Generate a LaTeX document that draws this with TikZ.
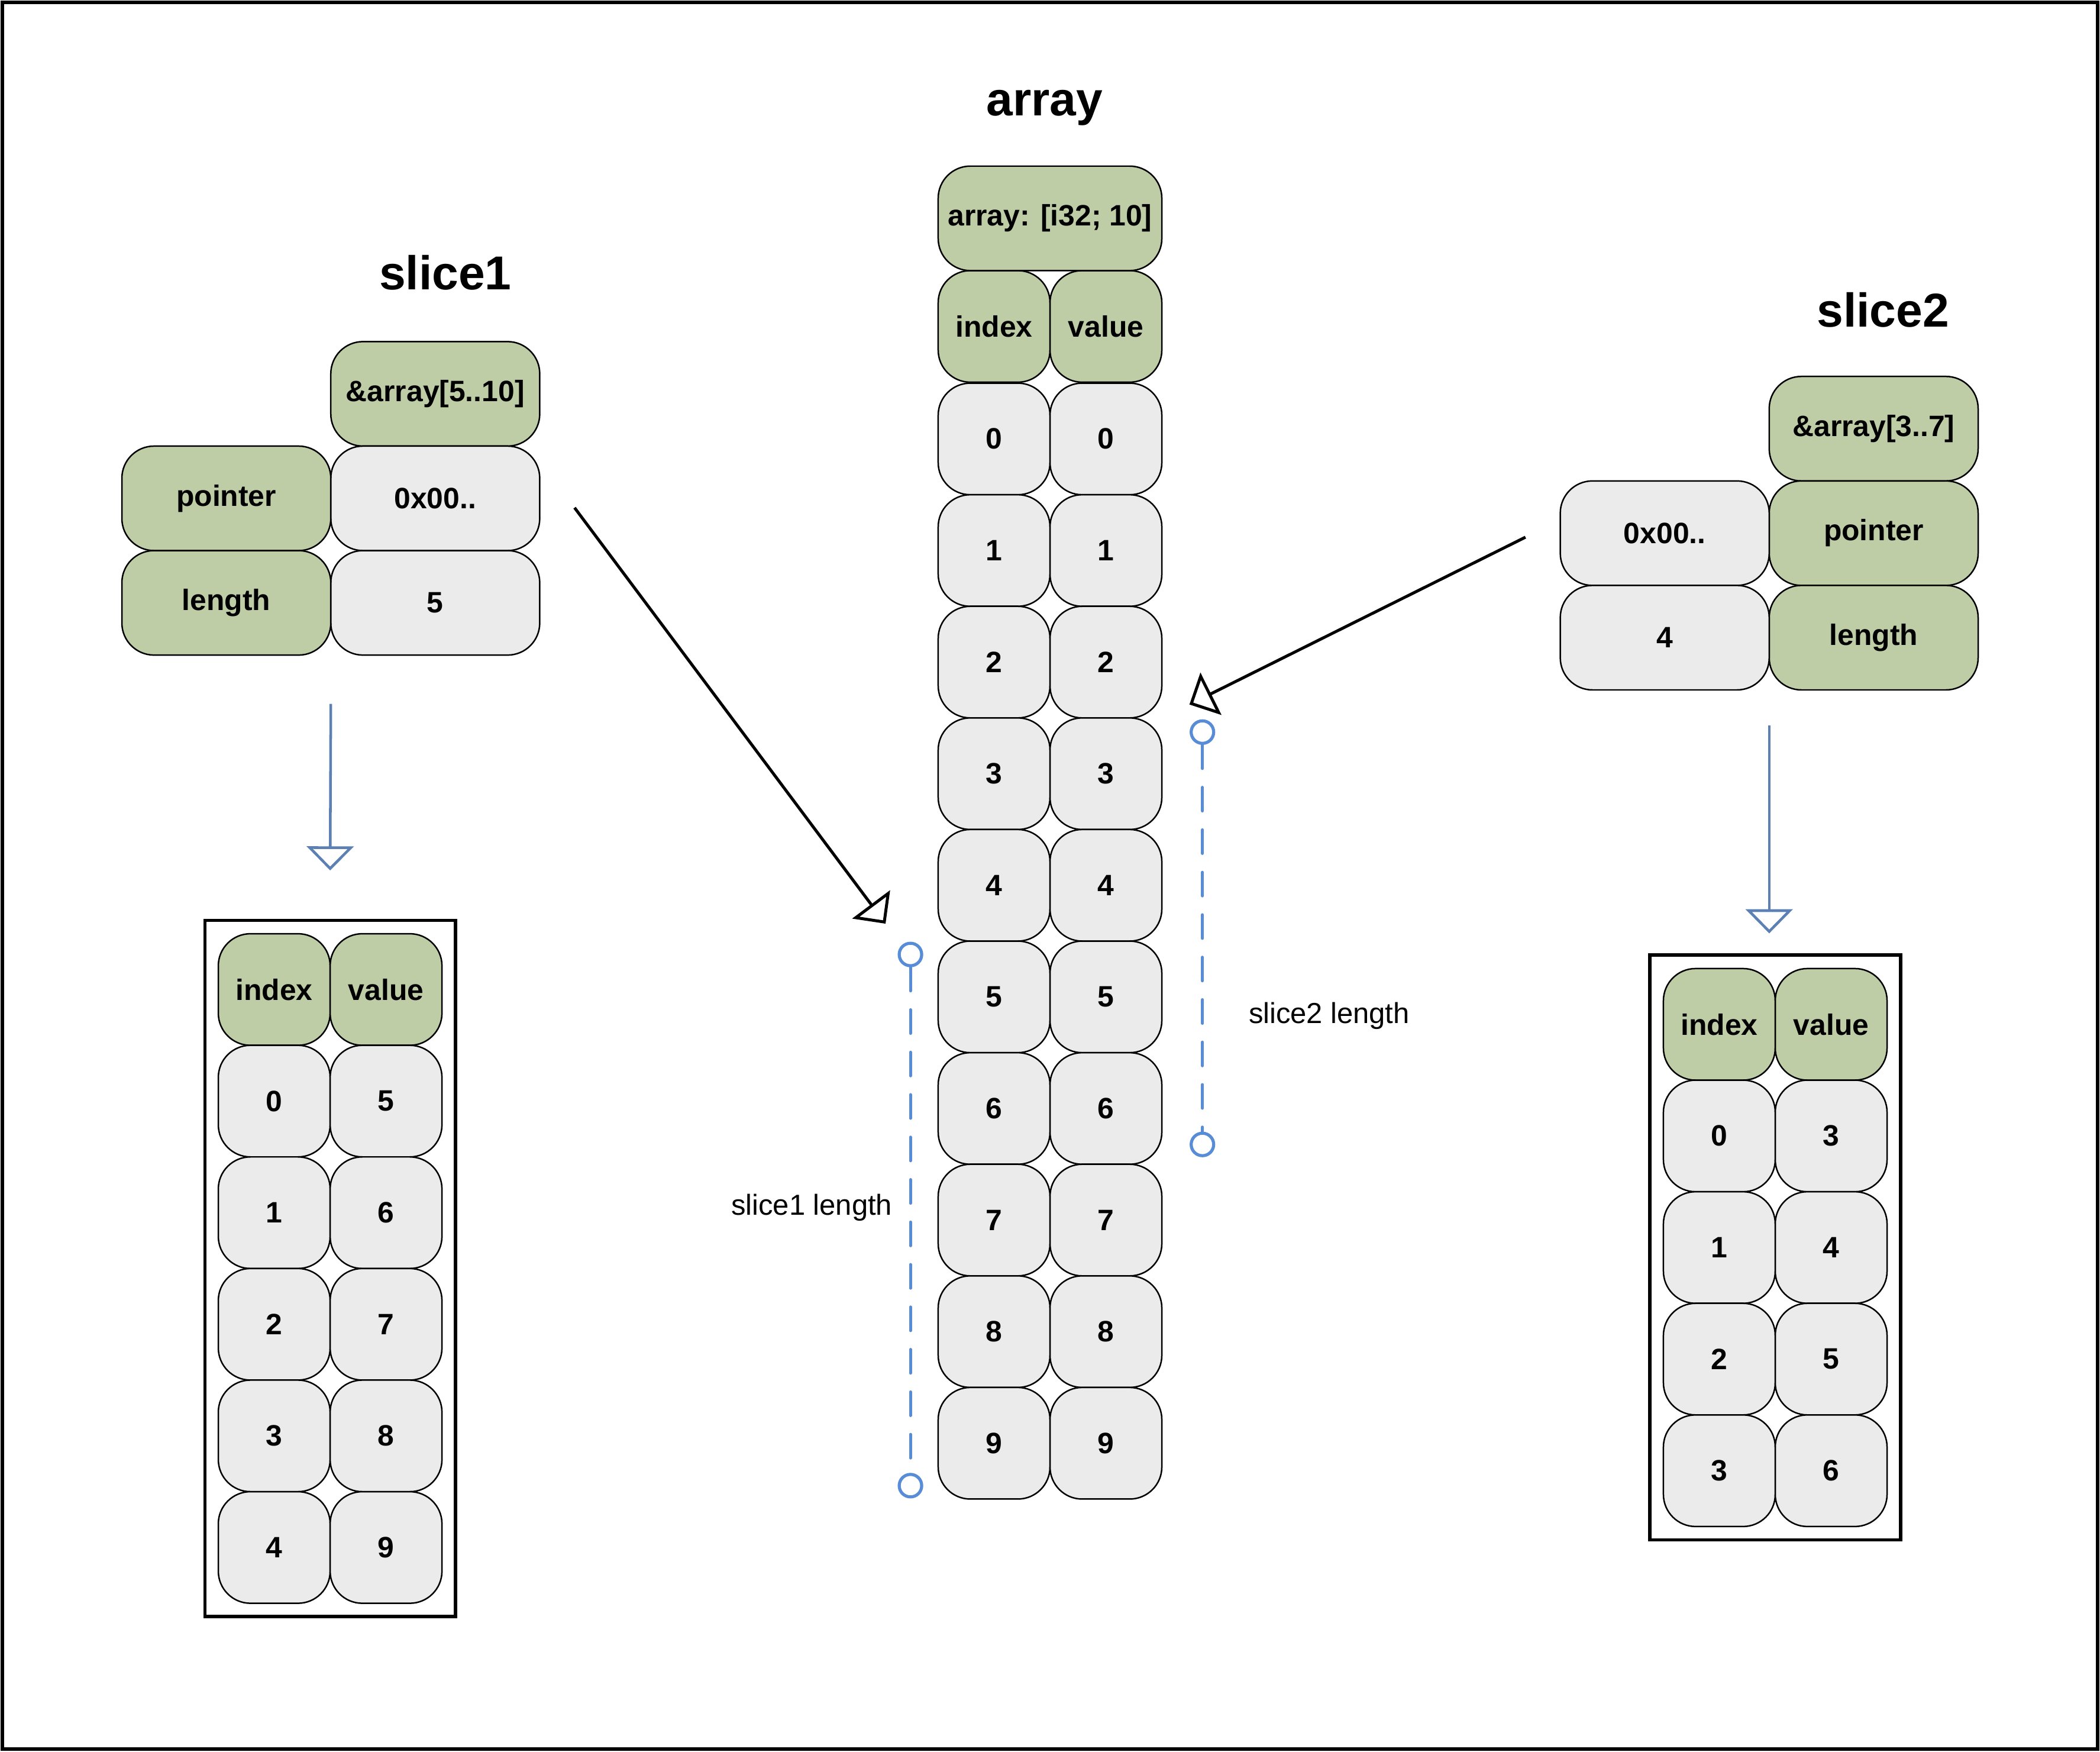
\documentclass[tikz,border=0pt]{standalone}
\usepackage{fontspec}
\setmainfont{Liberation Sans}
\usepackage{tikz}
\usetikzlibrary{arrows.meta, positioning, fit}
\definecolor{verde}{RGB}{190,205,166}
\definecolor{gris}{RGB}{235,235,235}
\definecolor{azul}{RGB}{88,140,214}
\definecolor{azulf}{RGB}{92,128,180}
\tikzset{
  celda/.style={rectangle, rounded corners=12pt, draw=black, fill=gris,
    line width=0.55pt, minimum width=41.75pt, minimum height=41.65pt,
    inner sep=0pt, outer sep=0pt, align=center,
    font=\fontsize{11pt}{13pt}\selectfont\bfseries},
  celdav/.style={celda, fill=verde},
  campo/.style={celda, minimum width=78pt, minimum height=39pt},
  campov/.style={campo, fill=verde},
  titulo/.style={font=\fontsize{17.75pt}{20pt}\selectfont\bfseries,
    anchor=base, inner sep=0pt},
  marco/.style={draw=black, line width=1.25pt, inner sep=5pt},
  flecha/.style={-{Triangle[open, length=9pt, width=17.5pt]}, line width=1.1pt},
  flechaz/.style={flecha, draw=azulf, line width=1pt},
  medida/.style={draw=azul, line width=1.15pt, line cap=round,
    dash pattern=on 8.8pt off 7.05pt},
  punto/.style={circle, draw=azul, fill=white, line width=1.15pt,
    minimum size=8.4pt, inner sep=0pt},
  etiq/.style={font=\fontsize{10.8pt}{13pt}\selectfont, inner sep=0pt}
}
\begin{document}
\begin{tikzpicture}[x=0.5pt, y=-0.5pt]
  \useasboundingbox (0,0) rectangle (1568,1307.4);
  \draw[line width=1.4pt] (1.85,1.85) rectangle (1566.1,1305.6);

  % array
  \node[titulo] (tarr) at (780,86.5) {array};
  \node[celdav, anchor=north west] (ai) at (700.5,202) {index};
  \node[celdav, right=0pt of ai] (av) {value};
  \node[celdav, above=0pt of ai.north east, minimum width=83.5pt,
        minimum height=39pt] (arr) {array: [i32; 10]};
  \foreach \i in {0,...,9} {
    \node[celda, anchor=north west] (a\i) at (700.5,{286+83.3*\i}) {\i};
    \node[celda, right=0pt of a\i] (b\i) {\i};
  }

  % slice1
  \node[titulo] (ts1) at (332.5,216) {slice1};
  \node[campov, anchor=north west] (s1ref) at (247,255) {\&array[5..10]};
  \node[campo, below=0pt of s1ref] (s1ptr) {0x00..};
  \node[campo, below=0pt of s1ptr] (s1len) {5};
  \node[campov, left=0pt of s1ptr] (s1p) {pointer};
  \node[campov, left=0pt of s1len] (s1l) {length};

  \node[celdav, anchor=north west] (t1i) at (163,697) {index};
  \node[celdav, right=0pt of t1i] (t1v) {value};
  \foreach \i/\v in {0/5,1/6,2/7,3/8,4/9} {
    \node[celda, anchor=north west] (t1i\i) at (163,{780.3+83.3*\i}) {\i};
    \node[celda, right=0pt of t1i\i] (t1v\i) {\v};
  }
  \node[marco, fit=(t1i) (t1v4)] (m1) {};

  % slice2
  \node[titulo] (ts2) at (1406,244) {slice2};
  \node[campov, anchor=north west] (s2ref) at (1321,281) {\&array[3..7]};
  \node[campov, below=0pt of s2ref] (s2p) {pointer};
  \node[campov, below=0pt of s2p] (s2l) {length};
  \node[campo, left=0pt of s2p] (s2ptr) {0x00..};
  \node[campo, left=0pt of s2l] (s2len) {4};

  \node[celdav, anchor=north west] (t2i) at (1242,723) {index};
  \node[celdav, right=0pt of t2i] (t2v) {value};
  \foreach \i/\v in {0/3,1/4,2/5,3/6} {
    \node[celda, anchor=north west] (t2i\i) at (1242,{806.3+83.3*\i}) {\i};
    \node[celda, right=0pt of t2i\i] (t2v\i) {\v};
  }
  \node[marco, fit=(t2i) (t2v3)] (m2) {};

  % medidas
  \node[punto] (k1a) at (679.8,712.5) {};
  \node[punto] (k1b) at (679.8,1109) {};
  \node[punto] (k2a) at (897.8,546.5) {};
  \node[punto] (k2b) at (897.8,854.3) {};
  \draw[medida] (k1a) -- (k1b);
  \draw[medida] (k2a) -- (k2b);
  \node[etiq, anchor=base east] (e1) at (666.5,907) {slice1 length};
  \node[etiq, anchor=base west] (e2) at (932,764) {slice2 length};

  % flechas
  \draw[flecha] ([xshift=13pt, yshift=-3.5pt]s1ptr.east)
             -- ([xshift=-9.3pt, yshift=11.5pt]k1a.center);
  \draw[flecha] ([xshift=-13pt, yshift=-1.5pt]s2ptr.west)
             -- ([xshift=-4.85pt, yshift=10.3pt]k2a.center);
  \draw[flechaz] ([yshift=-18.2pt]s1l.south east) -- ([yshift=18pt]m1.north);
  \coordinate (f2) at (s2len.south east |- m2.north);
  \draw[flechaz] ([yshift=-13.2pt]s2len.south east) -- ([yshift=7.5pt]f2);
\end{tikzpicture}
\end{document}
